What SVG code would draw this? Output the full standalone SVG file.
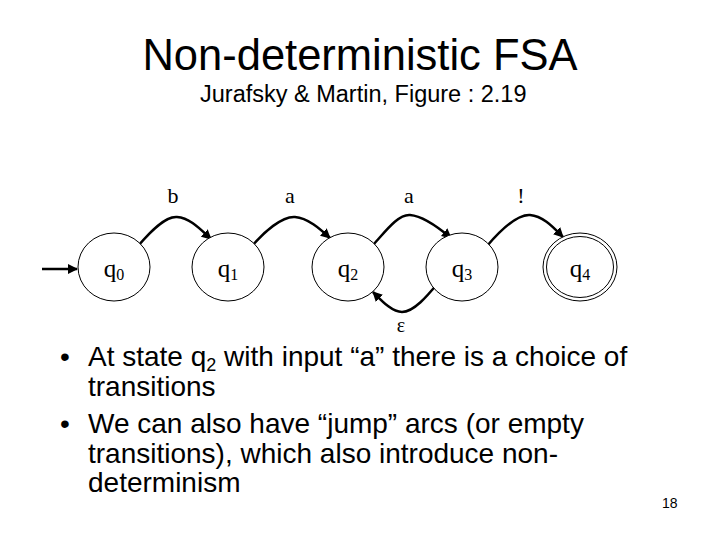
<svg xmlns="http://www.w3.org/2000/svg" width="720" height="540" viewBox="0 0 720 540">
<style>
.t{font-family:"Liberation Sans",Arial,sans-serif;fill:#000}
.s{font-family:"Liberation Serif","Times New Roman",serif;fill:#000}
.st{fill:#fff;stroke:#000;stroke-width:1}
.e{fill:none;stroke:#000;stroke-width:2.5;marker-end:url(#ah)}
</style>
<defs>
<marker id="ah" viewBox="0 0 10 10" refX="9" refY="5" markerWidth="4" markerHeight="4" orient="auto" markerUnits="strokeWidth">
<path d="M0,0 L10,5 L0,10 Z" fill="#000"/>
</marker>
</defs>
<rect width="720" height="540" fill="#fff"/>
<text class="t" x="360" y="70" font-size="43.5" text-anchor="middle">Non-deterministic FSA</text>
<text class="t" x="200" y="102" font-size="23.5">Jurafsky &amp; Martin, Figure : 2.19</text>

<g id="connectors">
<path class="e" d="M42,269 L77,269"/>
<path class="e" d="M138,246 C150,232 165,216 177,217 C190,218 200,229 211,239"/>
<path class="e" d="M252,246 C264,232 282,216 295,217 C308,218 320,229 330,238"/>
<path class="e" d="M373,245 C385,232 398,214 410,215 C423,216 438,227 451,238"/>
<path class="e" d="M487,246 C499,232 516,214 530,215 C543,216 553,227 563,237"/>
<path class="e" d="M438,283 C428,295 414,312 402,312 C392,312 382,301 373,292"/>
<text class="s" x="173" y="203" font-size="22" text-anchor="middle">b</text>
<text class="s" x="290" y="203" font-size="22" text-anchor="middle">a</text>
<text class="s" x="409" y="203" font-size="22" text-anchor="middle">a</text>
<text class="s" x="521" y="203" font-size="22" text-anchor="middle">!</text>
<text class="s" x="401" y="332" font-size="20" text-anchor="middle">ε</text>
</g>

<g id="q0">
<ellipse class="st" cx="114" cy="267" rx="36" ry="34"/>
<text class="s" x="114" y="277" font-size="25" text-anchor="middle">q<tspan font-size="16" dy="3">0</tspan></text>
</g>
<g id="q1">
<ellipse class="st" cx="228" cy="267" rx="36" ry="34"/>
<text class="s" x="228" y="277" font-size="25" text-anchor="middle">q<tspan font-size="16" dy="3">1</tspan></text>
</g>
<g id="q2">
<ellipse class="st" cx="348" cy="267" rx="36" ry="34"/>
<text class="s" x="348" y="277" font-size="25" text-anchor="middle">q<tspan font-size="16" dy="3">2</tspan></text>
</g>
<g id="q3">
<ellipse class="st" cx="462" cy="267" rx="36" ry="34"/>
<text class="s" x="462" y="277" font-size="25" text-anchor="middle">q<tspan font-size="16" dy="3">3</tspan></text>
</g>
<g id="q4">
<ellipse class="st" cx="580" cy="267" rx="37" ry="34"/>
<ellipse class="st" cx="580" cy="267" rx="33.5" ry="30.5"/>
<text class="s" x="580" y="277" font-size="25" text-anchor="middle">q<tspan font-size="16" dy="3">4</tspan></text>
</g>

<g id="bullets" class="t" font-size="28">
<text class="t" x="60" y="366" font-size="28">•</text>
<text class="t" x="88" y="366" font-size="28">At state q<tspan font-size="18" dy="5">2</tspan><tspan dy="-5"> with input “a” there is a choice of</tspan></text>
<text class="t" x="88" y="396" font-size="28">transitions</text>
<text class="t" x="60" y="433" font-size="28">•</text>
<text class="t" x="88" y="433" font-size="28">We can also have “jump” arcs (or empty</text>
<text class="t" x="88" y="463" font-size="28">transitions), which also introduce non-</text>
<text class="t" x="88" y="492" font-size="28">determinism</text>
</g>
<text class="t" x="662" y="508" font-size="14">18</text>
</svg>
